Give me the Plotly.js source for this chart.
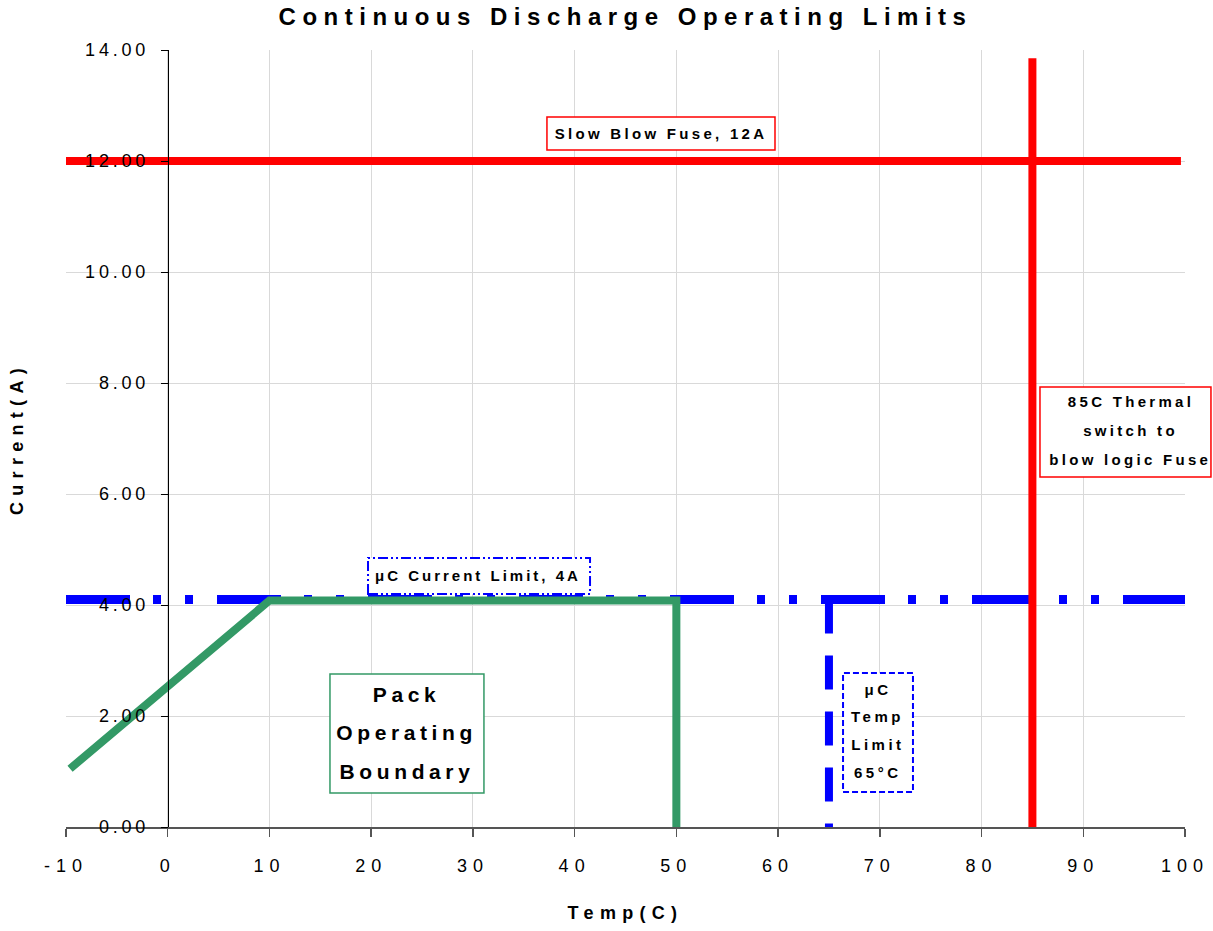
<!DOCTYPE html>
<html>
<head>
<meta charset="utf-8">
<script src="https://cdn.plot.ly/plotly-3.0.1.min.js"></script>
<style>
  html, body { margin: 0; padding: 0; background: #fff; }
  #chart { width: 1213px; height: 931px; }
  .gtitle { letter-spacing: 6.5px; }
  .xtitle, .ytitle { letter-spacing: 6.3px; }
  .xtick text { letter-spacing: 6px; }
  .ytick text { letter-spacing: 3.8px; }
</style>
</head>
<body>
<div id="chart"></div>
<script>
// ---- data ----
const fuseX = [-10, 99.6];
const fuseY = [12, 12];
const thermalX = [85, 85];
const thermalY = [0, 13.85];
const ucCurrentX = [-10, 100];
const ucCurrentY = [4.1, 4.1];
const ucTempX = [65, 65];
const ucTempY = [4.1, 0];
const packX = [-9.6, 10, 50, 50];
const packY = [1.05, 4.08, 4.08, -0.08];

const xTickVals = [-10, 0, 10, 20, 30, 40, 50, 60, 70, 80, 90, 100];
const xTickText = ['-10', '0', '10', '20', '30', '40', '50', '60', '70', '80', '90', '100'];
const yTickVals = [0, 2, 4, 6, 8, 10, 12, 14];

const titleText = 'Continuous Discharge Operating Limits';
const xTitleText = 'Temp(C)';
const yTitleText = 'Current(A)';

const fuseLabel = 'Slow Blow Fuse, 12A';
const ucCurrentLabel = 'μC Current Limit, 4A';
const packLabel = ['Pack', 'Operating', 'Boundary'];
const ucTempLabel = ['μC', 'Temp', 'Limit', '65°C'];
const thermalLabel = ['85C Thermal', 'switch to', 'blow logic Fuse'];

// ---- styles ----
const RED = '#FF0000', BLUE = '#0000FF', GREEN = '#339966';
const FONT = 'Liberation Sans, Arial, sans-serif';

const traces = [
  {x: ucCurrentX, y: ucCurrentY, mode: 'lines', line: {color: BLUE, width: 9, dash: '64px,23px,8px,24px,8px,24px'}},
  {x: ucTempX, y: ucTempY, mode: 'lines', line: {color: BLUE, width: 8, dash: '34px,22px'}},
  {x: packX, y: packY, mode: 'lines', line: {color: GREEN, width: 8}},
  {x: fuseX, y: fuseY, mode: 'lines', line: {color: RED, width: 8}},
  {x: thermalX, y: thermalY, mode: 'lines', line: {color: RED, width: 8}}
].map(t => Object.assign(t, {showlegend: false, hoverinfo: 'skip'}));

function box(x0, x1, y0, y1, color, width, dash) {
  return {type: 'rect', xref: 'paper', yref: 'paper', x0, x1, y0, y1, layer: 'above',
          fillcolor: '#FFFFFF', line: {color, width, dash: dash || 'solid'}};
}

const shapes = [
  box(0.4298, 0.6336, 0.8713, 0.9138, RED, 1.5),
  box(0.2699, 0.4683, 0.2999, 0.3462, BLUE, 2, '10px,3px,2px,3px,2px,3px'),
  box(0.2359, 0.3735, 0.0438, 0.1969, GREEN, 1.5),
  box(0.6944, 0.7569, 0.0450, 0.1982, BLUE, 2, '6px,3px'),
  box(0.8704, 1.0232, 0.4505, 0.5663, RED, 1.5)
];

const annotations = [];
const spacings = [];
function label(text, x, y, size, spacing) {
  annotations.push({text, x, y, xref: 'paper', yref: 'paper', xanchor: 'center', yanchor: 'middle',
    showarrow: false, font: {family: FONT, size, color: '#000', weight: 700}});
  spacings.push(spacing);
}
label(fuseLabel, 0.5317, 0.8925, 15, 3.3);
label(ucCurrentLabel, 0.3682, 0.3243, 15, 3.0);
const packY0 = [0.1699, 0.1210, 0.0708];
packLabel.forEach((t, i) => label(t, 0.3047, packY0[i], 21, 4.6));
const tempY0 = [0.1776, 0.1416, 0.1068, 0.0695];
ucTempLabel.forEach((t, i) => label(t, 0.7256, tempY0[i], 15, 3.5));
const thermY0 = [0.5470, 0.5097, 0.4736];
thermalLabel.forEach((t, i) => label(t, 0.9517, thermY0[i], 15, 3.3));

const layout = {
  width: 1213, height: 931,
  margin: {l: 66, r: 28, t: 50, b: 104},
  paper_bgcolor: '#FFFFFF', plot_bgcolor: '#FFFFFF',
  font: {family: FONT, color: '#000'},
  title: {text: titleText, x: 0.5, xref: 'paper', y: 1 - 17 / 931, yref: 'container', yanchor: 'middle',
          font: {family: FONT, size: 24, weight: 700, color: '#000'}},
  xaxis: {
    range: [-10, 100], tickmode: 'array', tickvals: xTickVals, ticktext: xTickText,
    showgrid: true, gridcolor: '#D9D9D9', gridwidth: 1,
    showline: true, linecolor: '#555555', linewidth: 1.5,
    ticks: 'outside', ticklen: 8, tickcolor: '#555555', tickwidth: 1.5,
    tickfont: {family: FONT, size: 18, color: '#000'}, ticklabelstandoff: 14,
    zeroline: false, automargin: false,
    title: {text: xTitleText, standoff: 31, font: {family: FONT, size: 18, weight: 700, color: '#000'}}
  },
  yaxis: {
    range: [0, 14], tickmode: 'array', tickvals: yTickVals, tickformat: '.2f',
    anchor: 'free', position: 10 / 110,
    showgrid: true, gridcolor: '#D9D9D9', gridwidth: 1,
    showline: true, linecolor: '#000000', linewidth: 1,
    ticks: 'outside', ticklen: 7, tickcolor: '#000000', tickwidth: 1,
    tickfont: {family: FONT, size: 18, color: '#000'}, ticklabelstandoff: 8,
    zeroline: false, automargin: false,
    title: {text: yTitleText, standoff: 55, font: {family: FONT, size: 18, weight: 700, color: '#000'}}
  },
  shapes, annotations
};

Plotly.newPlot('chart', traces, layout, {displayModeBar: false, staticPlot: true}).then(() => {
  document.querySelectorAll('#chart g.annotation').forEach(g => {
    const i = +g.getAttribute('data-index');
    const t = g.querySelector('text');
    if (t && spacings[i] != null) t.style.letterSpacing = spacings[i] + 'px';
  });
});
</script>
</body>
</html>
